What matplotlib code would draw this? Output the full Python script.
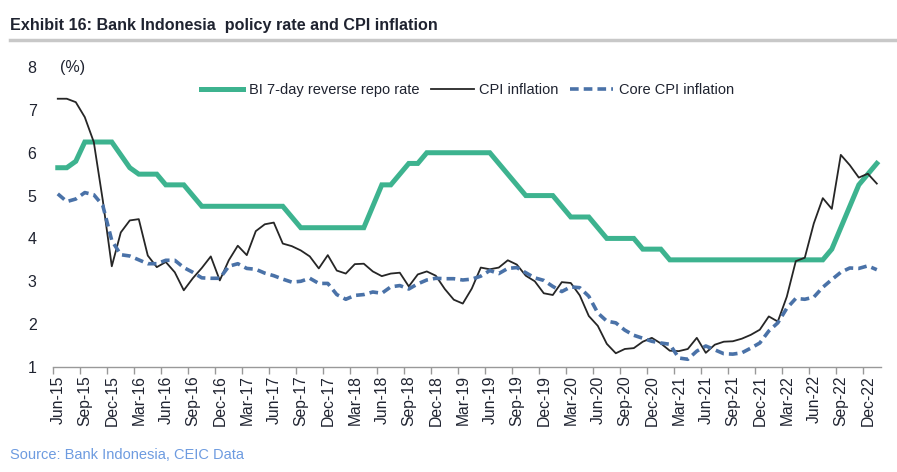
import numpy as np
import matplotlib
matplotlib.use('Agg')
import matplotlib.pyplot as plt
from matplotlib import font_manager

# monthly data, Jun-15 .. Jan-23
years = list(range(2015, 2024))
months = ['Jan', 'Feb', 'Mar', 'Apr', 'May', 'Jun', 'Jul', 'Aug', 'Sep', 'Oct', 'Nov', 'Dec']
dates = [m + '-' + str(y)[2:] for y in years for m in months]
dates = dates[5:5 + 92]

bi_rate = [5.65, 5.65, 5.8, 6.25, 6.25, 6.25, 6.25, 5.95, 5.65, 5.5, 5.5, 5.5,
           5.25, 5.25, 5.25, 5.0, 4.75, 4.75, 4.75, 4.75, 4.75, 4.75, 4.75, 4.75,
           4.75, 4.75, 4.5, 4.25, 4.25, 4.25, 4.25, 4.25, 4.25, 4.25, 4.25, 4.75,
           5.25, 5.25, 5.5, 5.75, 5.75, 6.0, 6.0, 6.0, 6.0, 6.0, 6.0, 6.0,
           6.0, 5.75, 5.5, 5.25, 5.0, 5.0, 5.0, 5.0, 4.75, 4.5, 4.5, 4.5,
           4.25, 4.0, 4.0, 4.0, 4.0, 3.75, 3.75, 3.75, 3.5, 3.5, 3.5, 3.5,
           3.5, 3.5, 3.5, 3.5, 3.5, 3.5, 3.5, 3.5, 3.5, 3.5, 3.5, 3.5,
           3.5, 3.5, 3.75, 4.25, 4.75, 5.25, 5.5, 5.75]

cpi = [7.26, 7.26, 7.18, 6.83, 6.25, 4.89, 3.35, 4.14, 4.42, 4.45, 3.60, 3.33,
       3.45, 3.21, 2.79, 3.07, 3.31, 3.58, 3.02, 3.49, 3.83, 3.61, 4.17, 4.33,
       4.37, 3.88, 3.82, 3.72, 3.58, 3.30, 3.61, 3.25, 3.18, 3.40, 3.41, 3.23,
       3.12, 3.18, 3.20, 2.88, 3.16, 3.23, 3.13, 2.82, 2.57, 2.48, 2.83, 3.32,
       3.28, 3.32, 3.49, 3.39, 3.13, 3.00, 2.72, 2.68, 2.98, 2.96, 2.67, 2.19,
       1.96, 1.54, 1.32, 1.42, 1.44, 1.59, 1.68, 1.55, 1.38, 1.37, 1.42, 1.68,
       1.33, 1.52, 1.59, 1.60, 1.66, 1.75, 1.87, 2.18, 2.06, 2.64, 3.47, 3.55,
       4.35, 4.94, 4.69, 5.95, 5.71, 5.42, 5.51, 5.28]

core_cpi = [5.04, 4.86, 4.92, 5.07, 5.02, 4.77, 3.95, 3.62, 3.59, 3.50, 3.41, 3.41,
            3.49, 3.49, 3.32, 3.21, 3.08, 3.07, 3.07, 3.35, 3.41, 3.30, 3.28, 3.19,
            3.13, 3.05, 2.98, 3.00, 3.07, 2.95, 2.95, 2.69, 2.58, 2.67, 2.69, 2.75,
            2.72, 2.87, 2.90, 2.82, 2.94, 3.03, 3.07, 3.06, 3.06, 3.03, 3.05, 3.12,
            3.25, 3.18, 3.30, 3.32, 3.20, 3.08, 3.02, 2.88, 2.76, 2.87, 2.85, 2.65,
            2.26, 2.07, 2.03, 1.86, 1.74, 1.67, 1.60, 1.56, 1.53, 1.21, 1.18, 1.37,
            1.49, 1.40, 1.31, 1.30, 1.33, 1.44, 1.56, 1.84, 2.03, 2.37, 2.60, 2.58,
            2.63, 2.86, 3.04, 3.21, 3.31, 3.30, 3.36, 3.27]

names = [f.name for f in font_manager.fontManager.ttflist]
font = 'Liberation Sans Narrow' if 'Liberation Sans Narrow' in names else 'Liberation Sans'
plt.rcParams['font.family'] = [font, 'DejaVu Sans']

text_col = '#1f2330'
green = '#3db38f'
blue = '#4a72a8'

fig = plt.figure(figsize=(8.97, 4.72), dpi=100)
ax = fig.add_axes([0.0594, 0.2225, 0.9231, 0.6355])

x = np.arange(len(dates))
ax.plot(x, bi_rate, color=green, lw=3.6, solid_joinstyle='miter', label='BI 7-day reverse repo rate')
ax.plot(x, cpi, color='#262626', lw=1.3, label='CPI inflation')
ax.plot(x, core_cpi, color=blue, lw=2.6, dashes=(2.4, 1.4), label='Core CPI inflation')

ax.set_xlim(-0.5, len(dates) - 0.5)
ax.set_ylim(1, 8)
ax.set_yticks(range(1, 9))
ax.tick_params(axis='y', length=0, pad=12, labelsize=11.5, labelcolor=text_col)

lab_pos = x[::3][:31]
ax.set_xticks(lab_pos)
ax.set_xticklabels([dates[i] for i in lab_pos], rotation=90, fontsize=11.3, color=text_col)
ax.set_xticks(np.arange(-0.5, 90, 3), minor=True)
ax.tick_params(axis='x', which='major', length=0, pad=6)
ax.tick_params(axis='x', which='minor', length=5, width=1, color='#999999', direction='out')

for s in ['top', 'right', 'left']:
    ax.spines[s].set_visible(False)
ax.spines['bottom'].set_color('#999999')
ax.spines['bottom'].set_linewidth(1)

ax.text(0.3, 7.98, '(%)', fontsize=11.5, color=text_col, va='center')

ax.legend(loc='upper center', bbox_to_anchor=(0.5, 0.99), ncol=3, frameon=False,
          fontsize=10.5, handlelength=2.9, handletextpad=0.4, columnspacing=0.8,
          labelcolor=text_col)

fig.text(0.011, 0.947, 'Exhibit 16: Bank Indonesia  policy rate and CPI inflation',
         fontsize=11.6, fontweight='bold', color=text_col, va='center')
fig.add_artist(plt.Line2D([0.011, 1.0], [0.915, 0.915], color='#c8c8c8', lw=2.5))
fig.text(0.011, 0.035, 'Source: Bank Indonesia, CEIC Data', fontsize=10.5, color='#6d9be0', va='center')

fig.savefig('out.png', dpi=100)
